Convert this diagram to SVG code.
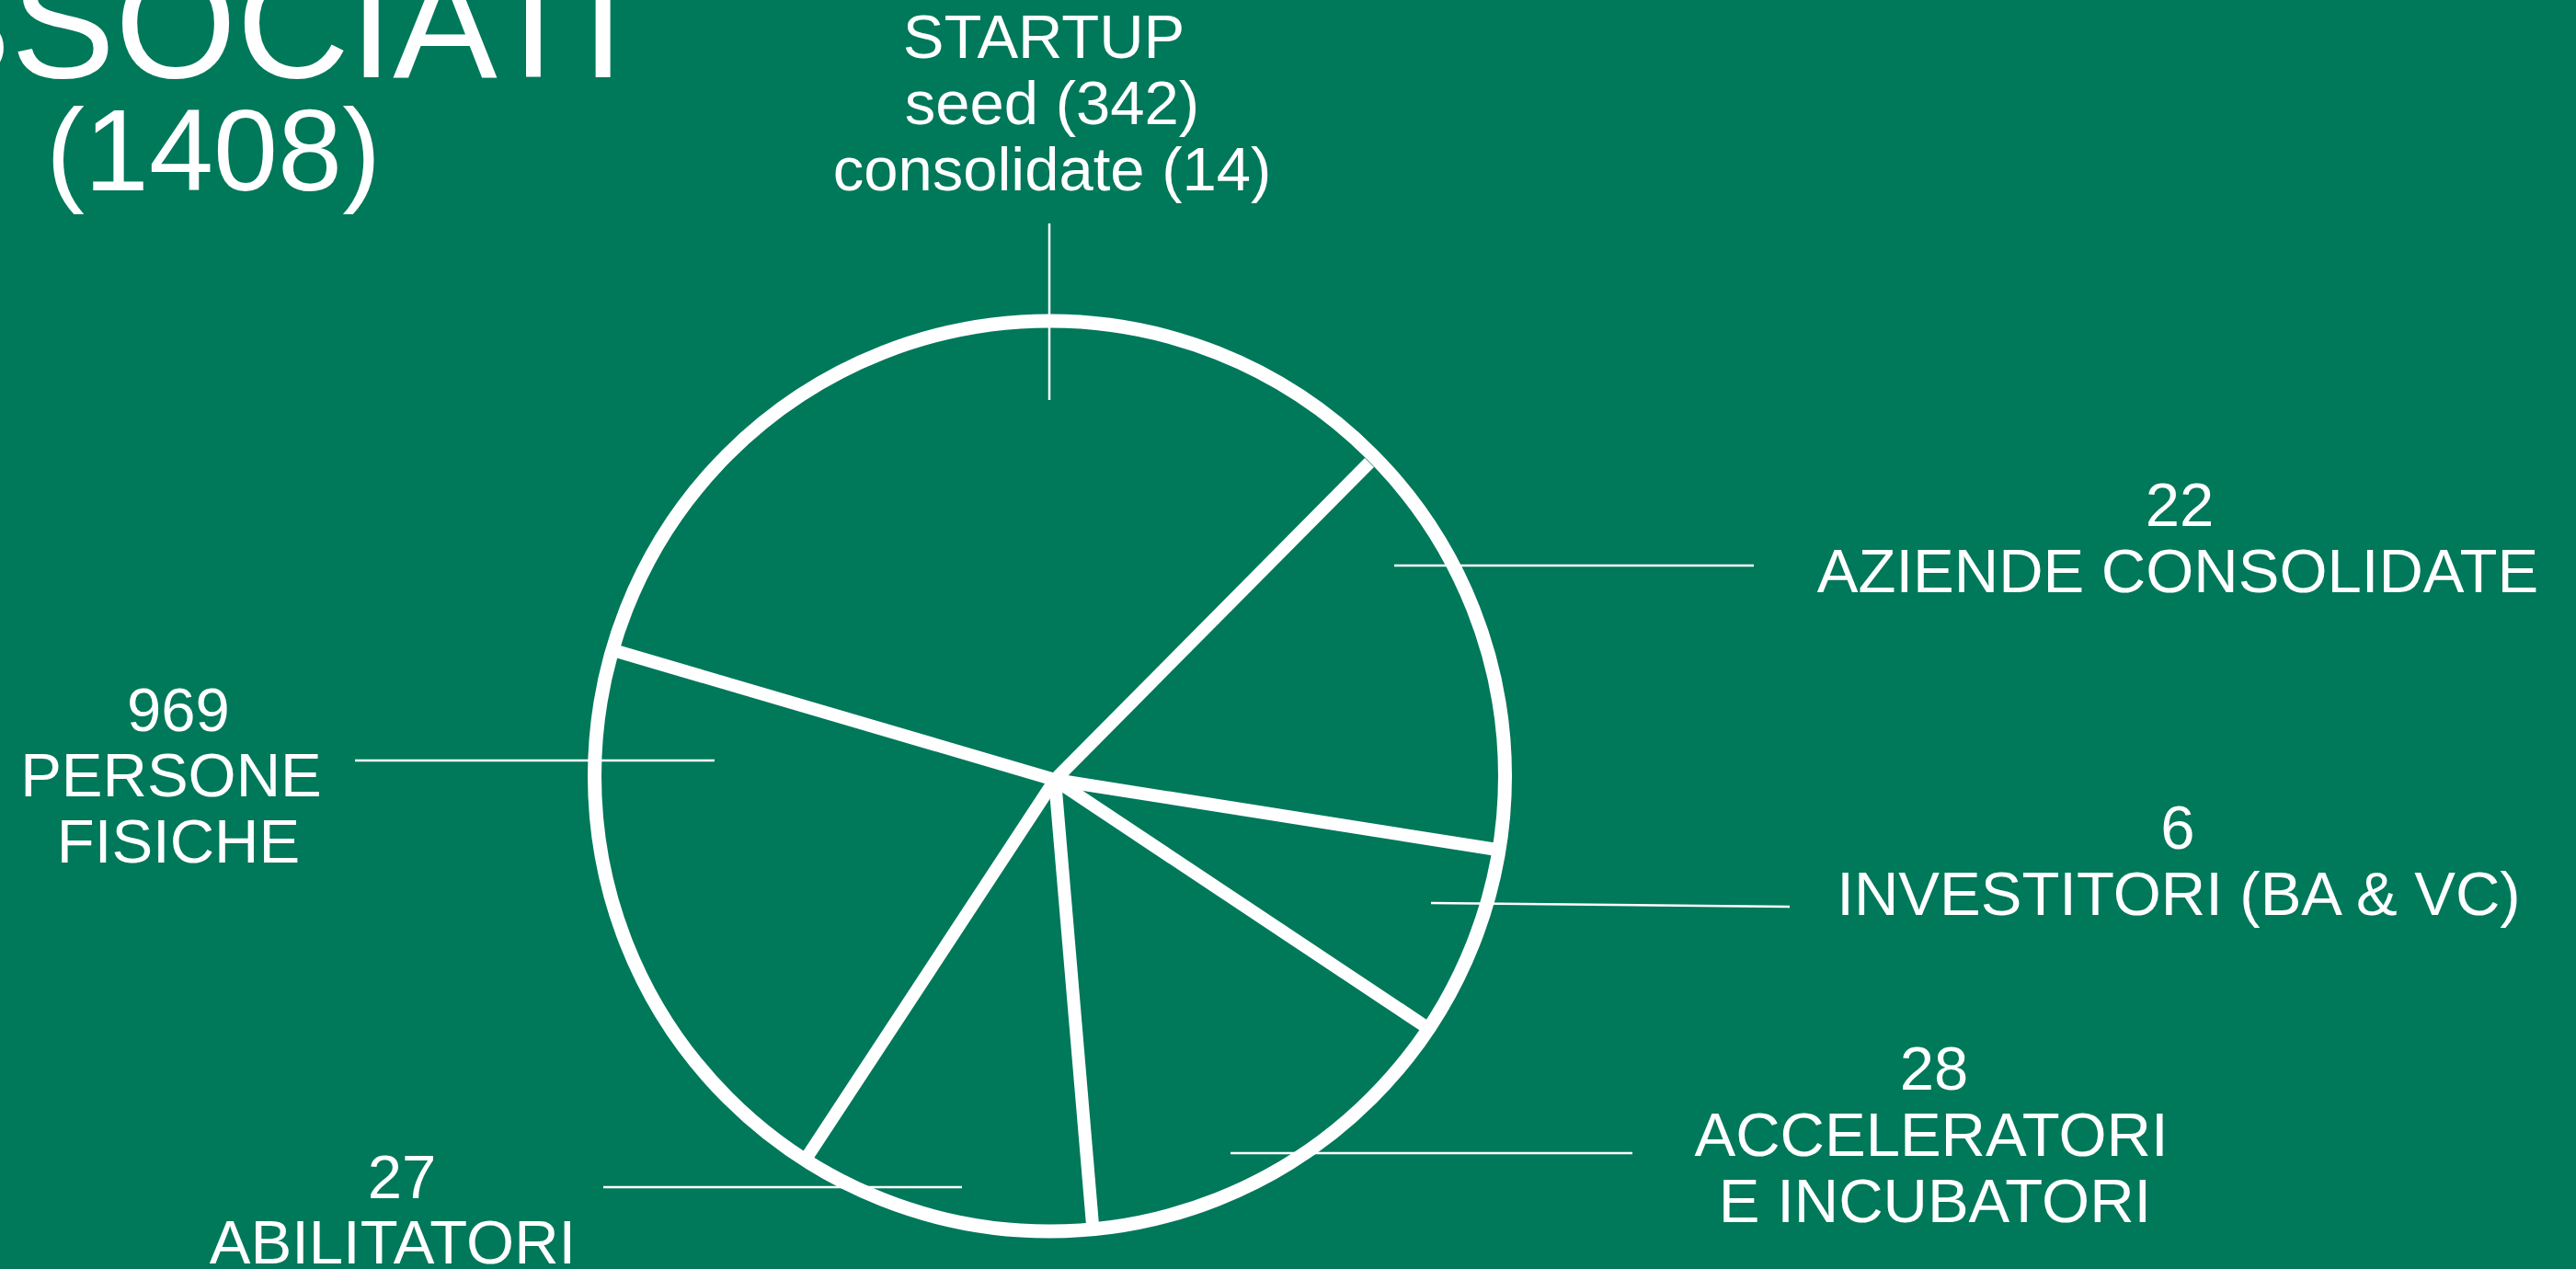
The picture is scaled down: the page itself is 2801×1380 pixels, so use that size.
<svg xmlns="http://www.w3.org/2000/svg" width="2801" height="1380" viewBox="0 0 2801 1380">
  <style>
    .t { font-family: "Liberation Sans", Arial, sans-serif; fill: #ffffff; text-anchor: middle; }
    .lbl { font-size: 67px; }
    .pie { fill: none; stroke: #ffffff; stroke-width: 15; }
    .spoke { stroke: #ffffff; stroke-width: 14; stroke-linecap: butt; }
    .lead { stroke: #ffffff; stroke-width: 2.5; fill: none; }
  </style>
  <rect x="0" y="0" width="2801" height="1380" fill="#00785A"/>

  <g id="title">
    <text class="t" x="232" y="84" font-size="170">ASSOCIATI</text>
    <text class="t" x="232" y="207" font-size="126">(1408)</text>
  </g>

  <g id="pie">
    <circle class="pie" cx="1141.5" cy="844" r="495"/>
    <line class="spoke" x1="1147" y1="848" x2="1489" y2="503"/>
    <line class="spoke" x1="1147" y1="848" x2="1628" y2="924"/>
    <line class="spoke" x1="1147" y1="848" x2="1548" y2="1115"/>
    <line class="spoke" x1="1147" y1="848" x2="1188" y2="1332"/>
    <line class="spoke" x1="1147" y1="848" x2="879" y2="1256"/>
    <line class="spoke" x1="1147" y1="848" x2="670" y2="708"/>
  </g>

  <g id="connectors">
    <line class="lead" x1="1141" y1="243" x2="1141" y2="435"/>
    <line class="lead" x1="1516" y1="615" x2="1907" y2="615"/>
    <line class="lead" x1="1556" y1="982" x2="1946" y2="986"/>
    <line class="lead" x1="1338" y1="1254" x2="1775" y2="1254"/>
    <line class="lead" x1="386" y1="827" x2="777" y2="827"/>
    <line class="lead" x1="656" y1="1291" x2="1046" y2="1291"/>
  </g>

  <g id="label-startup">
    <text class="t lbl" x="1135" y="63">STARTUP</text>
    <text class="t lbl" x="1144" y="135">seed (342)</text>
    <text class="t lbl" x="1144" y="207">consolidate (14)</text>
  </g>

  <g id="label-aziende">
    <text class="t lbl" x="2370" y="572">22</text>
    <text class="t lbl" x="2368" y="644">AZIENDE CONSOLIDATE</text>
  </g>

  <g id="label-investitori">
    <text class="t lbl" x="2368" y="923">6</text>
    <text class="t lbl" x="2369" y="995">INVESTITORI (BA &amp; VC)</text>
  </g>

  <g id="label-acceleratori">
    <text class="t lbl" x="2103" y="1185">28</text>
    <text class="t lbl" x="2100" y="1257">ACCELERATORI</text>
    <text class="t lbl" x="2104" y="1329">E INCUBATORI</text>
  </g>

  <g id="label-persone">
    <text class="t lbl" x="194" y="795">969</text>
    <text class="t lbl" x="186" y="866">PERSONE</text>
    <text class="t lbl" x="194" y="938">FISICHE</text>
  </g>

  <g id="label-abilitatori">
    <text class="t lbl" x="437" y="1303">27</text>
    <text class="t lbl" x="427" y="1374">ABILITATORI</text>
  </g>
</svg>
